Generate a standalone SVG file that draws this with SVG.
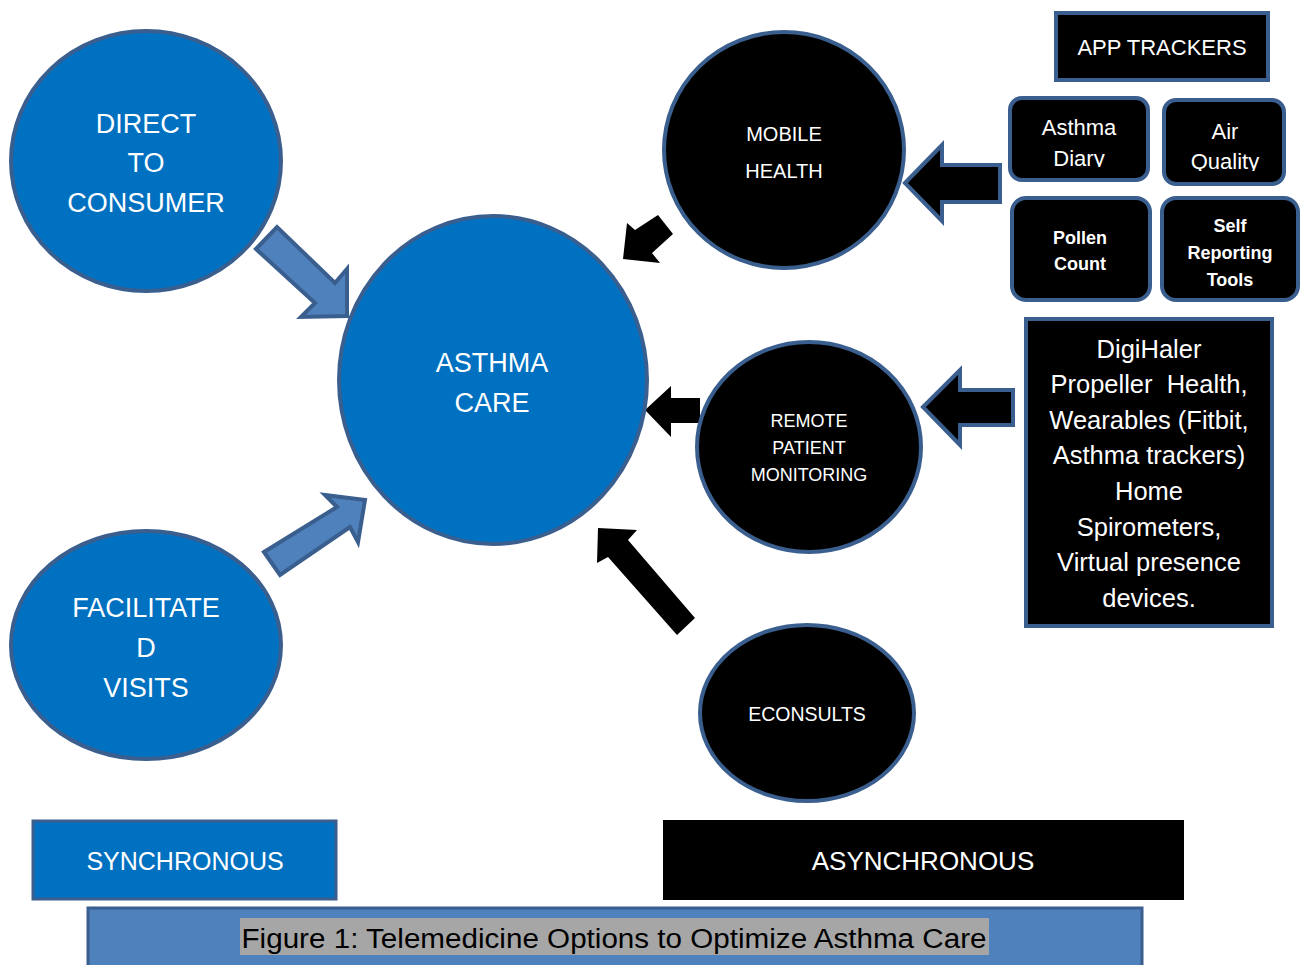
<svg xmlns="http://www.w3.org/2000/svg" width="1301" height="965" viewBox="0 0 1301 965">
<style>
.bc{fill:#0070c0;stroke:#3a5f8f;stroke-width:4}
.kc{fill:#000;stroke:#3a5f8f;stroke-width:4}
.ba{fill:#4f81bd;stroke:#3a5f8f;stroke-width:4;stroke-linejoin:miter}
.ka{fill:#000}
.ko{fill:#000;stroke:#3a5f8f;stroke-width:4}
text{font-family:"Liberation Sans",Arial,sans-serif;fill:#fff;text-anchor:middle}
.b{font-weight:bold}
</style>
<defs>
<clipPath id="cd"><rect x="1010" y="98" width="138" height="69"/></clipPath>
<clipPath id="cq"><rect x="1164" y="100" width="120" height="71"/></clipPath>
</defs>
<rect width="1301" height="965" fill="#fff"/>
<g id="connectors">
<polygon class="ba" points="256,249 277,227 335,283 347,269 347,316 301,317 315,303"/>
<polygon class="ba" points="264,552 337,507 325,495 365,500 358,542 350,527 280,575"/>
<polygon class="ka" points="623,259 627,223 635,230 658,215 673,234 652,253 660,263"/>
<polygon class="ko" points="905,183 942,145 942,165 1000,165 1000,202 942,202 942,221"/>
<polygon class="ka" points="645,410 671,386 671,398 700,398 700,423 671,423 671,437"/>
<polygon class="ko" points="923,407 960,370 960,390 1013,390 1013,425 960,425 960,445"/>
<polygon class="ka" points="598,528 637,530 628,540 695,618 677,635 608,557 597,563"/>
</g>
<g id="direct-to-consumer">
<ellipse class="bc" cx="146" cy="161" rx="135" ry="130"/>
<text x="146" y="133" font-size="27">DIRECT</text>
<text x="146" y="172" font-size="27">TO</text>
<text x="146" y="212" font-size="27">CONSUMER</text>
</g>
<g id="asthma-care">
<ellipse class="bc" cx="493" cy="380" rx="154" ry="164"/>
<text x="492" y="372" font-size="27">ASTHMA</text>
<text x="492" y="412" font-size="27">CARE</text>
</g>
<g id="facilitated-visits">
<ellipse class="bc" cx="146" cy="645" rx="135" ry="114"/>
<text x="146" y="617" font-size="27">FACILITATE</text>
<text x="146" y="657" font-size="27">D</text>
<text x="146" y="697" font-size="27">VISITS</text>
</g>
<g id="mobile-health">
<ellipse class="kc" cx="784" cy="150" rx="120" ry="118"/>
<text x="784" y="141" font-size="20">MOBILE</text>
<text x="784" y="178" font-size="20">HEALTH</text>
</g>
<g id="remote-patient-monitoring">
<ellipse class="kc" cx="809" cy="447" rx="112" ry="105"/>
<text x="809" y="427" font-size="18">REMOTE</text>
<text x="809" y="454" font-size="18">PATIENT</text>
<text x="809" y="481" font-size="18">MONITORING</text>
</g>
<g id="econsults">
<ellipse class="kc" cx="807" cy="713" rx="107" ry="88"/>
<text x="807" y="721" font-size="19.5">ECONSULTS</text>
</g>
<g id="app-trackers">
<rect class="kc" x="1056" y="13" width="212" height="67"/>
<text x="1162" y="55" font-size="22">APP TRACKERS</text>
</g>
<g id="asthma-diary">
<rect class="kc" x="1010" y="98" width="138" height="82" rx="12"/>
<g clip-path="url(#cd)">
<text x="1079" y="135" font-size="22">Asthma</text>
<text x="1079" y="166" font-size="22">Diary</text>
</g>
</g>
<g id="air-quality">
<rect class="kc" x="1164" y="100" width="120" height="84" rx="12"/>
<g clip-path="url(#cq)">
<text x="1225" y="139" font-size="22">Air</text>
<text x="1225" y="169" font-size="22">Quality</text>
</g>
</g>
<g id="pollen-count">
<rect class="kc" x="1012" y="198" width="138" height="102" rx="14"/>
<text class="b" x="1080" y="244" font-size="18">Pollen</text>
<text class="b" x="1080" y="270" font-size="18">Count</text>
</g>
<g id="self-reporting-tools">
<rect class="kc" x="1162" y="198" width="136" height="102" rx="14"/>
<text class="b" x="1230" y="232" font-size="18">Self</text>
<text class="b" x="1230" y="259" font-size="18">Reporting</text>
<text class="b" x="1230" y="286" font-size="18">Tools</text>
</g>
<g id="devices">
<rect class="kc" x="1026" y="319" width="246" height="307"/>
<text x="1149" y="358" font-size="25.5">DigiHaler</text>
<text x="1149" y="393" font-size="25.5">Propeller&#160; Health,</text>
<text x="1149" y="429" font-size="25.5">Wearables (Fitbit,</text>
<text x="1149" y="464" font-size="25.5">Asthma trackers)</text>
<text x="1149" y="500" font-size="25.5">Home</text>
<text x="1149" y="536" font-size="25.5">Spirometers,</text>
<text x="1149" y="571" font-size="25.5">Virtual presence</text>
<text x="1149" y="607" font-size="25.5">devices.</text>
</g>
<g id="synchronous">
<rect x="33" y="821" width="303" height="78" fill="#0070c0" stroke="#3a5f8f" stroke-width="3"/>
<text x="185" y="870" font-size="25">SYNCHRONOUS</text>
</g>
<g id="asynchronous">
<rect x="663" y="820" width="521" height="80" fill="#000"/>
<text x="923" y="870" font-size="26">ASYNCHRONOUS</text>
</g>
<g id="caption">
<rect x="88" y="908" width="1054" height="60" fill="#4f81bd" stroke="#3a5f8f" stroke-width="3"/>
<rect x="240" y="918" width="749" height="37" fill="#a6a6a6"/>
<text x="614" y="948" font-size="27" style="fill:#000" textLength="745" lengthAdjust="spacingAndGlyphs">Figure 1: Telemedicine Options to Optimize Asthma Care</text>
</g>
</svg>
